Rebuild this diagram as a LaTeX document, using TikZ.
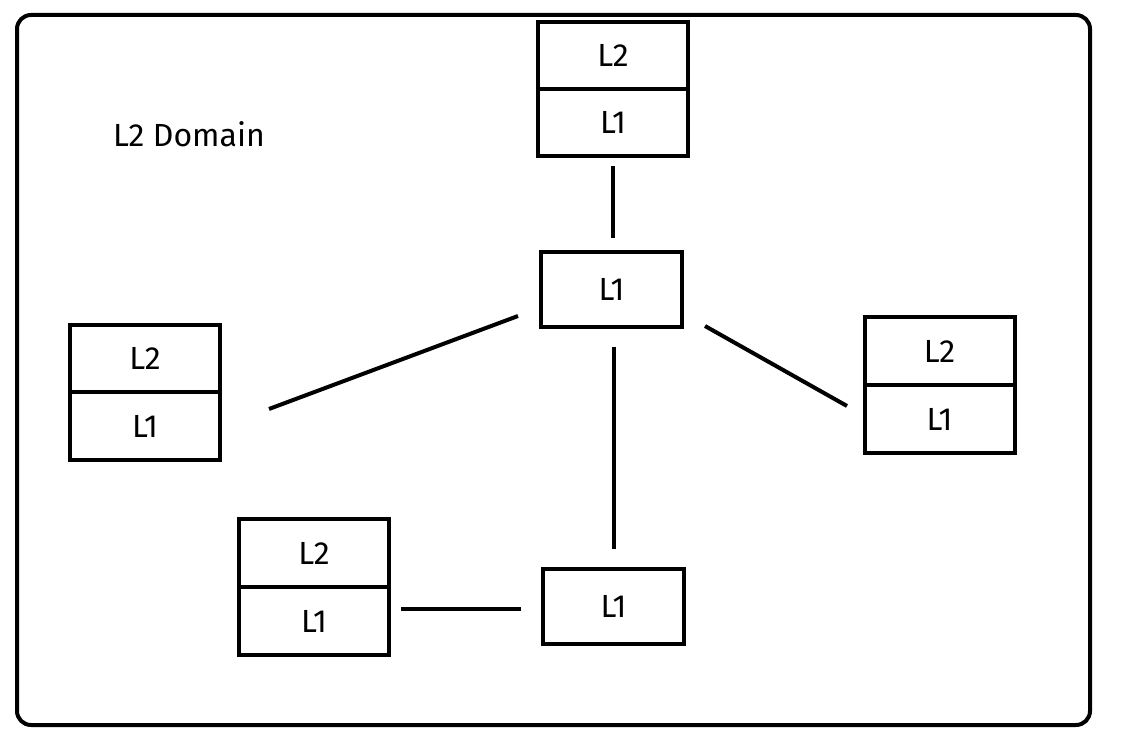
\documentclass[tikz,border=0pt]{standalone}
\usepackage{fontspec}
\setmainfont{Fira Sans}
\begin{document}
\begin{tikzpicture}[x=1pt,y=-1pt,
  box/.style={draw=black,line width=4pt,minimum width=150pt,inner sep=0pt,font=\fontsize{32}{36}\selectfont},
  link/.style={draw=black,line width=4pt},
  lbl/.style={font=\fontsize{32}{36}\selectfont,inner sep=0pt}]
\useasboundingbox (0,0) rectangle (1122,754);
\draw[line width=4pt,rounded corners=14pt] (17,15) rectangle (1090,725);
\node[lbl] (title) at (189,134) {L2 Domain};
% top stacked
\node[box,minimum height=67pt] (t2) at (613,55.5) {L2};
\node[box,minimum height=67pt] (t1) at (613,122.5) {L1};
% left stacked
\node[box,minimum height=67.5pt] (l2) at (145,358.5) {L2};
\node[box,minimum height=67.5pt] (l1) at (145,426) {L1};
% right stacked
\node[box,minimum height=68pt] (r2) at (939.5,351) {L2};
\node[box,minimum height=68pt] (r1) at (939.5,419) {L1};
% bottom-left stacked
\node[box,minimum height=68pt] (b2) at (314,553) {L2};
\node[box,minimum height=68pt] (b1) at (314,621) {L1};
% center switches
\node[box,minimum width=141pt,minimum height=75pt] (c) at (611.5,289.5) {L1};
\node[box,minimum width=141pt,minimum height=75pt] (d) at (613.5,606.5) {L1};
% connector end points
\coordinate (e1a) at (613,166);
\coordinate (e1b) at (613,238);
\coordinate (e2a) at (269,409);
\coordinate (e2b) at (518,316);
\coordinate (e3a) at (614,347);
\coordinate (e3b) at (614,549);
\coordinate (e4a) at (705,326);
\coordinate (e4b) at (847,406);
\coordinate (e5a) at (401,609);
\coordinate (e5b) at (521,609);
\draw[link] (e1a) -- (e1b);
\draw[link] (e2a) -- (e2b);
\draw[link] (e3a) -- (e3b);
\draw[link] (e4a) -- (e4b);
\draw[link] (e5a) -- (e5b);
\end{tikzpicture}
\end{document}
